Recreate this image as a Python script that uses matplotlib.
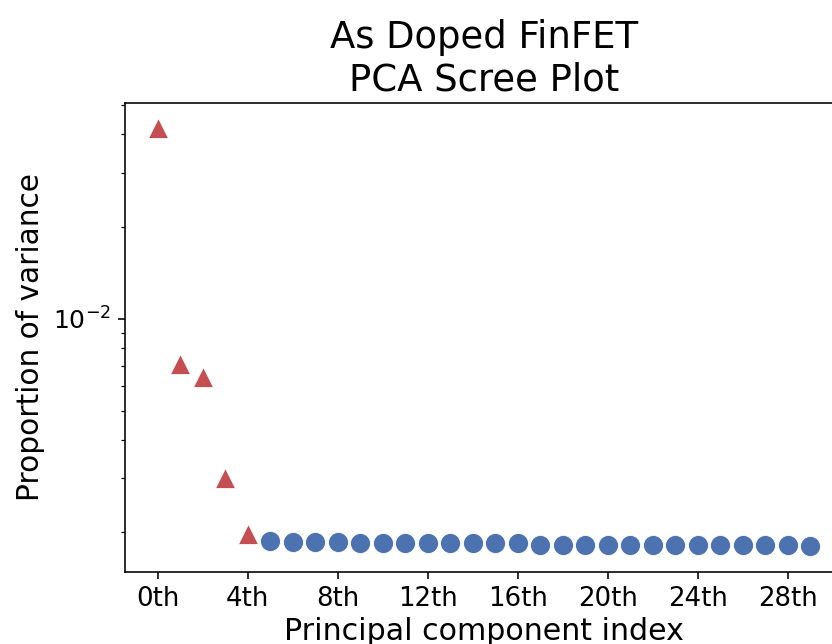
import matplotlib
matplotlib.use("Agg")
import matplotlib.pyplot as plt

# ---- data ----
components = list(range(30))
variance = [0.0420, 0.00709, 0.00644, 0.00302, 0.00198,
            0.00187, 0.00186, 0.00186, 0.00186,
            0.00184, 0.00184, 0.00184, 0.00184, 0.00184, 0.00184, 0.00184, 0.00184,
            0.00182, 0.00182, 0.00182, 0.00182, 0.00182, 0.00182,
            0.00182, 0.00182, 0.00182, 0.00182, 0.00182, 0.00182,
            0.00180]
n_retained = 5
tick_positions = [0, 4, 8, 12, 16, 20, 24, 28]
tick_labels = [f"{t}th" for t in tick_positions]

title = "As Doped FinFET\nPCA Scree Plot"
xlabel = "Principal component index"
ylabel = "Proportion of variance"

RED = "#C44E52"
BLUE = "#4C72B0"

DPI = 144
fig = plt.figure(figsize=(832 / DPI, 644 / DPI), dpi=DPI)
W, H = 832, 644
left, right, top, bottom = 125, 842.75, 102.7, 572.3
ax = fig.add_axes([left / W, 1 - bottom / H, (right - left) / W, (bottom - top) / H])

ax.scatter(components[:n_retained], variance[:n_retained], marker="^", s=100,
           color=RED, edgecolor="white", linewidth=0.4, zorder=3)
ax.scatter(components[n_retained:], variance[n_retained:], marker="o", s=100,
           color=BLUE, edgecolor="white", linewidth=0.4, zorder=3)

ax.set_yscale("log")
ax.set_ylim(0.00148, 0.0508)
ax.set_xticks(tick_positions)
ax.set_xticklabels(tick_labels)
ax.tick_params(axis="x", which="major", labelsize=13)
ax.tick_params(axis="y", which="major", labelsize=12.5)

ax.set_title(title, fontsize=18.5)
ax.set_xlabel(xlabel, fontsize=15, labelpad=2.5)
ax.set_ylabel(ylabel, fontsize=14.8)

fig.savefig("out.png", dpi=DPI)
